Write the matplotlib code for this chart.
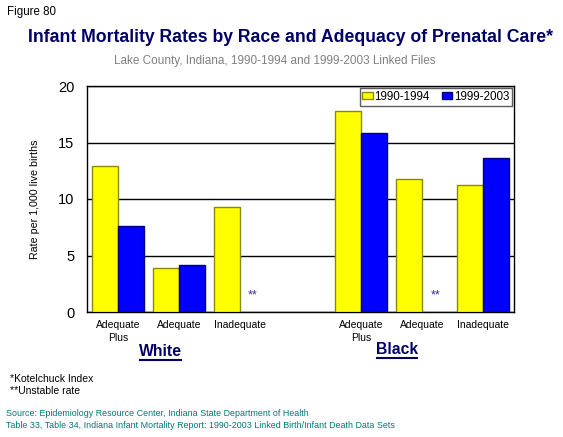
import numpy as np
import matplotlib.pyplot as plt

plt.rcParams['font.family'] = ['Liberation Sans', 'DejaVu Sans']

# Data (rate per 1,000 live births)
categories = ['Adequate\nPlus', 'Adequate', 'Inadequate', '', 'Adequate\nPlus', 'Adequate', 'Inadequate']
rates_1990 = [12.9, 3.9, 9.3, np.nan, 17.8, 11.8, 11.2]
rates_1999 = [7.6, 4.2, np.nan, np.nan, 15.8, np.nan, 13.6]
unstable = [2, 5]  # slots where the 1999-2003 rate is unstable (**)
series_labels = ['1990-1994', '1999-2003']
groups = ['White', 'Black']

fig = plt.figure(figsize=(5.63, 4.37), dpi=100)
ax = fig.add_axes([87 / 563, 1 - 312 / 437, (514 - 87) / 563, (312 - 86) / 437])

x = np.arange(len(categories))
w = 0.428
ax.bar(x - w / 2, rates_1990, w, color='#FFFF00', edgecolor='#8A8A00', linewidth=1,
       label=series_labels[0], zorder=3)
ax.bar(x + w / 2, rates_1999, w, color='#0000FF', edgecolor='#000080', linewidth=1,
       label=series_labels[1], zorder=3)

for i in unstable:
    ax.text(x[i] + w / 2, 0.9, '**', color='#333399', fontsize=9, ha='center', va='bottom', zorder=4)

ax.set_xlim(-0.515, 6.51)
ax.set_ylim(0, 20)
ax.set_yticks([0, 5, 10, 15, 20])
ax.tick_params(axis='y', length=0, labelsize=10.5, pad=9)
ax.tick_params(axis='x', length=0, labelsize=7.5, pad=6)
ax.set_xticks(x)
ax.set_xticklabels(categories, linespacing=1.3)
ax.yaxis.grid(True, color='black', linewidth=1, zorder=0)
for s in ax.spines.values():
    s.set_color('black')
    s.set_linewidth(1)
ax.set_ylabel('Rate per 1,000 live births', fontsize=7.7, labelpad=13)

leg = ax.legend(loc='upper right', ncol=2, fontsize=8.4, frameon=True, fancybox=False,
                borderpad=0.25, handlelength=0.9, handleheight=0.6, handletextpad=0.15,
                columnspacing=1.0, borderaxespad=0.15)
leg.get_frame().set_edgecolor('#333333')
leg.get_frame().set_linewidth(1)

# group labels, underlined
fig.text(160.5 / 563, 1 - 351.5 / 437, groups[0], color='#000066', fontsize=11.3, fontweight='bold',
         ha='center', va='center')
fig.text(396.7 / 563, 1 - 349 / 437, groups[1], color='#000066', fontsize=11.3, fontweight='bold',
         ha='center', va='center')
fig.add_artist(plt.Line2D([140 / 563, 181 / 563], [1 - 360 / 437] * 2, color='#000066', lw=1.5))
fig.add_artist(plt.Line2D([376.5 / 563, 417 / 563], [1 - 358 / 437] * 2, color='#000066', lw=1.5))

fig.text(7 / 563, 1 - 12 / 437, 'Figure 80', fontsize=8.3, va='center')
fig.text(291 / 563, 1 - 37 / 437, 'Infant Mortality Rates by Race and Adequacy of Prenatal Care*',
         fontsize=12.7, fontweight='bold', color='#000066', ha='center', va='center')
fig.text(275 / 563, 1 - 61 / 437, 'Lake County, Indiana, 1990-1994 and 1999-2003 Linked Files',
         fontsize=8.5, color='#808080', ha='center', va='center')

fig.text(10 / 563, 1 - 379 / 437, '*Kotelchuck Index', fontsize=7.5, va='center')
fig.text(10 / 563, 1 - 391 / 437, '**Unstable rate', fontsize=7.5, va='center')
fig.text(6 / 563, 1 - 414 / 437, 'Source: Epidemiology Resource Center, Indiana State Department of Health',
         fontsize=6.4, color='#007777', va='center')
fig.text(6 / 563, 1 - 425 / 437, 'Table 33, Table 34, Indiana Infant Mortality Report: 1990-2003 Linked Birth/Infant Death Data Sets',
         fontsize=6.4, color='#007777', va='center')

fig.savefig('out.png', dpi=100)
